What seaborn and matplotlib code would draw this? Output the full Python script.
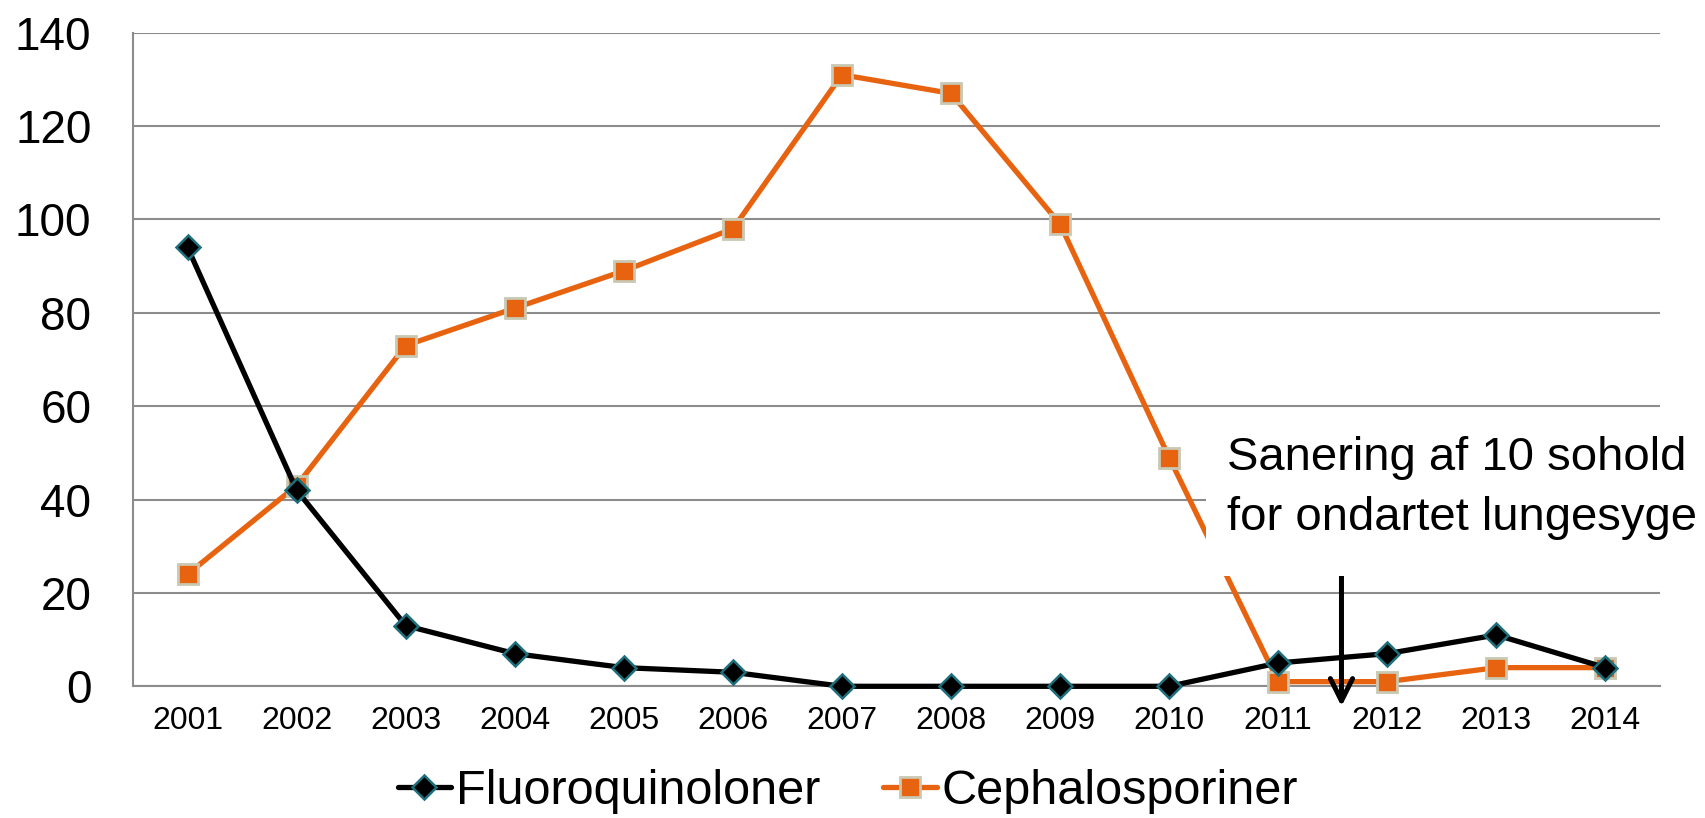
import matplotlib
matplotlib.use("Agg")
import matplotlib.pyplot as plt
from matplotlib.patches import Rectangle
import numpy as np
import seaborn as sns

# Data
years = ["2001", "2002", "2003", "2004", "2005", "2006", "2007",
         "2008", "2009", "2010", "2011", "2012", "2013", "2014"]
fluoro = [94, 42, 13, 7, 4, 3, 0, 0, 0, 0, 5, 7, 11, 4]
cephalo = [24, 43, 73, 81, 89, 98, 131, 127, 99, 49, 1, 1, 4, 4]
y_ticks = [0, 20, 40, 60, 80, 100, 120, 140]
note = "Sanering af 10 sohold\nfor ondartet lungesyge"
note_x = 10.58  # between 2011 and 2012

sns.set_style("white")
plt.rcParams["font.family"] = ["Liberation Sans", "DejaVu Sans"]
plt.rcParams["text.color"] = "black"

grey = "#8c8c8c"
orange = "#E8630F"

W, H = 1706, 818
fig, ax = plt.subplots(figsize=(W / 100, H / 100), dpi=100)
fig.subplots_adjust(left=0.078, right=0.973, top=0.960, bottom=0.161)

x = np.arange(len(years))
sns.lineplot(x=x, y=fluoro, ax=ax, color="black", linewidth=3.8,
             marker="D", markersize=12, markerfacecolor="black",
             markeredgecolor="#1d6f7c", markeredgewidth=1.8,
             label="Fluoroquinoloner", clip_on=False, zorder=4)
sns.lineplot(x=x, y=cephalo, ax=ax, color=orange, linewidth=3.8,
             marker="s", markersize=15, markerfacecolor=orange,
             markeredgecolor="#c9c8b2", markeredgewidth=2,
             label="Cephalosporiner", clip_on=False, zorder=3)

ax.set_xlim(-0.5, len(years) - 0.5)
ax.set_ylim(0, 140)
ax.set_yticks(y_ticks)
ax.set_xticks(x)
ax.set_xticklabels(years)
ax.set_xticks(np.arange(len(years) + 1) - 0.5, minor=True)
ax.tick_params(axis="x", which="major", length=0, labelsize=23, pad=14,
               labelcolor="black")
ax.tick_params(axis="x", which="minor", length=9, width=1.5,
               color=grey, direction="out")
ax.tick_params(axis="y", length=11, width=1.5, color=grey,
               direction="out", labelsize=33, pad=19, labelcolor="black")
ax.yaxis.grid(True, color=grey, linewidth=1.5)
ax.set_axisbelow(True)
for side in ["top", "right"]:
    ax.spines[side].set_visible(False)
for side in ["left", "bottom"]:
    ax.spines[side].set_color(grey)
    ax.spines[side].set_linewidth(1.5)
ax.set_xlabel("")
ax.set_ylabel("")

# white box behind the note (hides part of the line and grid)
fig.patches.append(Rectangle((1206 / W, 1 - 576 / H), 500 / W, 160 / H,
                             transform=fig.transFigure, facecolor="white",
                             edgecolor="none", zorder=9))
fig.text(1227 / W, 1 - 436 / H, note, fontsize=34, va="top", ha="left",
         linespacing=1.48, zorder=10, color="black")
ax.annotate("", xy=(note_x, -4.9), xytext=(note_x, 24.5),
            arrowprops=dict(arrowstyle="->,head_length=1.6,head_width=0.8",
                            color="black", linewidth=3.6),
            annotation_clip=False, zorder=6)

ax.get_legend().remove()
handles, labels = ax.get_legend_handles_labels()
fig.legend(handles, labels, loc="center", bbox_to_anchor=(0.497, 0.032),
           ncol=2, frameon=False, fontsize=35, handlelength=1.1,
           handletextpad=0.1, columnspacing=1.3)

fig.savefig("out.png", dpi=100)
